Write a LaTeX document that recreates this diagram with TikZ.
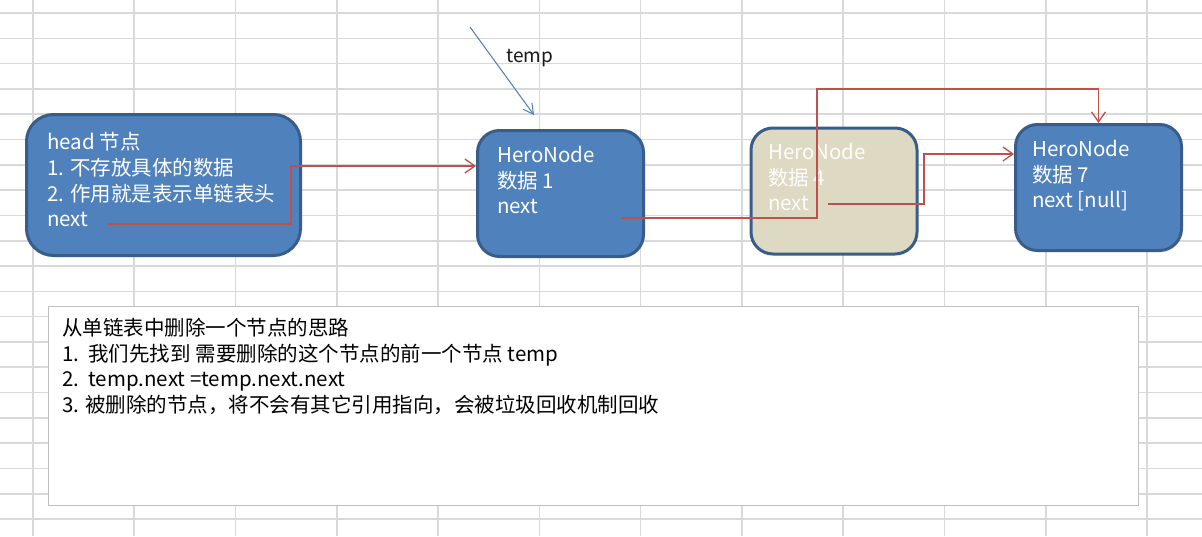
\documentclass[tikz,border=0pt]{standalone}
\usepackage{fontspec}
\setmainfont{Noto Sans CJK SC}
\usetikzlibrary{arrows.meta,calc}
\definecolor{boxblue}{HTML}{4F81BD}
\definecolor{boxedge}{HTML}{385D8A}
\definecolor{beige}{HTML}{DDD9C3}
\definecolor{linkred}{HTML}{C0504D}
\definecolor{gridgray}{HTML}{D9D9D9}
\definecolor{framegray}{HTML}{BFBFBF}
\definecolor{temparrow}{HTML}{4A7EBB}
\begin{document}
\begin{tikzpicture}[x=1pt,y=-1pt,
  gridline/.style={gridgray,line width=1.6pt},
  nodebox/.style={draw=boxedge,line width=3pt,fill=boxblue,rounded corners=22pt,inner sep=0pt,minimum width=166pt,minimum height=126pt},
  txt/.style={anchor=base west,inner sep=0pt,font=\fontsize{20.5}{26}\selectfont,text=white},
  notetxt/.style={anchor=base west,inner sep=0pt,font=\fontsize{20.5}{26}\selectfont,text=black},
  link/.style={linkred,line width=1.3pt,-{Straight Barb[length=10pt,width=14pt]}},
  tarrow/.style={temparrow,line width=1pt,-{Straight Barb[length=10pt,width=11pt]}}
]
\useasboundingbox (0,0) rectangle (1202,536);
\fill[white] (0,0) rectangle (1202,536);
% spreadsheet grid
\foreach \i in {0,...,11} \draw[gridline] ({33+101.27*\i},0) -- ({33+101.27*\i},536);
\foreach \j in {0,...,20} \draw[gridline] (0,{13+25.3*\j}) -- (1202,{13+25.3*\j});

% boxes
\node[nodebox,rounded corners=27pt,minimum width=274pt,minimum height=141pt] (h) at (163.5,185) {};
\node[nodebox] (n1) at (560.5,193.5) {};
\node[nodebox,fill=beige] (n4) at (834,191) {};
\node[nodebox] (n7) at (1098.5,187.5) {};
\node[draw=framegray,line width=1.2pt,fill=white,minimum width=1090pt,minimum height=199pt,inner sep=0pt] (note) at (593.5,406) {};

% head text
\node[txt] (h1) at (47,149.5) {head 节点};
\node[txt] (h2) at (47,175.5) {1. 不存放具体的数据};
\node[txt] (h3) at (47,201) {2. 作用就是表示单链表头};
\node[txt] (h4) at (47,226.5) {next};
% node 1
\node[txt] (a1) at (497,162) {HeroNode};
\node[txt] (a2) at (497,188) {数据 1};
\node[txt] (a3) at (497,213.5) {next};
% node 4
\node[txt,text=white!95!beige] (b1) at (768,159) {HeroNode};
\node[txt,text=white!95!beige] (b2) at (768,185) {数据 4};
\node[txt,text=white!95!beige] (b3) at (768,210) {next};
% node 7
\node[txt] (c1) at (1032,156) {HeroNode};
\node[txt] (c2) at (1032,182) {数据 7};
\node[txt] (c3) at (1032,207.5) {next [null]};

% note text
\node[notetxt] (t1) at (62,335.5) {从单链表中删除一个节点的思路};
\node[notetxt] (t2) at (62,361) {1.\ \ 我们先找到 需要删除的这个节点的前一个节点 temp};
\node[notetxt] (t3) at (62,386) {2.\ \ temp.next =temp.next.next};
\node[notetxt] (t4) at (62,412) {3. 被删除的节点，将不会有其它引用指向，会被垃圾回收机制回收};

% temp pointer
\coordinate (ts) at (470,27);
\coordinate (te) at (534,115);
\draw[tarrow] (ts) -- (te);
\node[anchor=base west,inner sep=0pt,font=\fontsize{19}{24}\selectfont,text=black!90] (templbl) at (506,62) {temp};

% red links
\coordinate (hs) at (107,224);
\coordinate (hb) at (291,166);
\draw[link] (hs) -| (hb) -- (hb -| n1.west);
\coordinate (as) at (621,218);
\coordinate (ab) at (817,89);
\draw[link] (as) -| (ab) -| (n7.north);
\coordinate (bs) at (828,204);
\coordinate (bb) at (924,154);
\draw[link] (bs) -| (bb) -- (bb -| n7.west);
\end{tikzpicture}
\end{document}
